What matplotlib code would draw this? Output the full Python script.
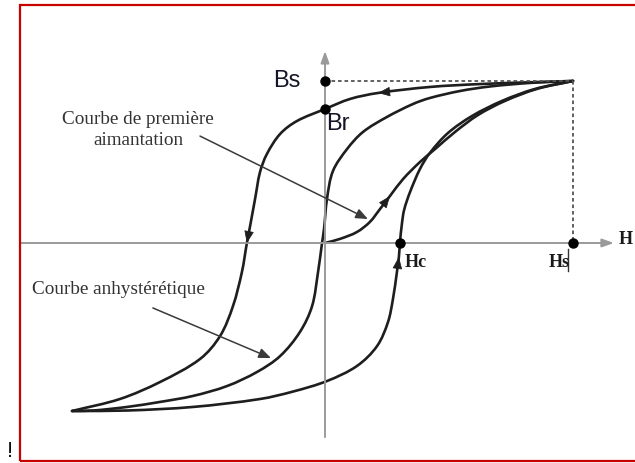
import matplotlib
matplotlib.use("Agg")
import matplotlib.pyplot as plt
from matplotlib.patches import Rectangle, PathPatch
from matplotlib.path import Path
import numpy as np

# Normalised field H/Hs and induction B/Bs
Br = 0.827
Hc = 0.302

# descending branch (from +saturation down to -saturation)
desc_H = [1.000, 0.867, 0.625, 0.423, 0.214, 0.101, 0.000, -0.113, -0.181, -0.234,
          -0.262, -0.282, -0.302, -0.315, -0.335, -0.371, -0.423, -0.504, -0.665,
          -0.827, -1.020]
desc_B = [1.000, 0.994, 0.981, 0.963, 0.926, 0.889, Br, 0.753, 0.673, 0.550,
          0.438, 0.272, 0.105, 0.000, -0.179, -0.389, -0.574, -0.716, -0.858,
          -0.963, -1.037]

# ascending branch (from -saturation up to +saturation)
asc_H = [-1.020, -0.798, -0.532, -0.262, -0.129, 0.008, 0.129, 0.210, 0.254, 0.274,
         0.290, 0.298, Hc, 0.310, 0.319, 0.343, 0.383, 0.423, 0.496, 0.593, 0.714,
         0.847, 1.000]
asc_B = [-1.037, -1.034, -1.012, -0.963, -0.917, -0.852, -0.759, -0.636, -0.488,
         -0.346, -0.179, -0.086, 0.000, 0.117, 0.204, 0.315, 0.457, 0.556, 0.679,
         0.784, 0.877, 0.951, 1.000]

# anhysteretic curve
anh_H = [-1.020, -0.935, -0.798, -0.665, -0.532, -0.395, -0.274, -0.181, -0.101,
         -0.052, -0.028, -0.012, -0.004, 0.008, 0.032, 0.089, 0.153, 0.250, 0.355,
         0.423, 0.544, 0.665, 0.827, 1.000]
anh_B = [-1.037, -1.034, -1.012, -0.981, -0.944, -0.883, -0.796, -0.698, -0.549,
         -0.389, -0.179, 0.000, 0.086, 0.272, 0.444, 0.580, 0.685, 0.778, 0.858,
         0.895, 0.938, 0.966, 0.988, 1.000]

# first magnetisation curve
first_H = [0.000, 0.060, 0.129, 0.181, 0.222, 0.262, 0.315, 0.383, 0.444, 0.524,
           0.617, 0.726, 0.855, 1.000]
first_B = [0.000, 0.025, 0.068, 0.130, 0.210, 0.290, 0.395, 0.500, 0.580, 0.685,
           0.790, 0.877, 0.951, 1.000]

Bs = 1.0
Hs = 1.0

CURVE = "#1e1e1e"
AXIS = "#9a9a9a"

fig = plt.figure(figsize=(6.35, 4.64), dpi=100)
ax = fig.add_axes([0, 0, 1, 1])
ax.set_xlim(-1.3105, 1.25)
ax.set_ylim(-1.358, 1.506)
ax.axis("off")


def smooth_path(h, b):
    """Cubic Bezier path through every (h, b) point, tangents from chord lengths
    measured on screen so unevenly spaced points still give a smooth line."""
    to_px = ax.transData
    p = to_px.transform(np.column_stack([h, b]).astype(float))
    n = len(p)
    tang = np.zeros_like(p)
    for i in range(n):
        a = p[max(i - 1, 0)]
        c = p[min(i + 1, n - 1)]
        d = c - a
        tang[i] = d / (np.hypot(*d) or 1.0)
    verts = [p[0]]
    codes = [Path.MOVETO]
    for i in range(n - 1):
        seg = np.hypot(*(p[i + 1] - p[i])) / 3.0
        verts += [p[i] + tang[i] * seg, p[i + 1] - tang[i + 1] * seg, p[i + 1]]
        codes += [Path.CURVE4] * 3
    verts = to_px.inverted().transform(np.array(verts))
    return Path(verts, codes)


# frame around the figure
fig.patches.append(Rectangle((20 / 635, 2.5 / 464), 1.2, 1 - 8.5 / 464,
                             transform=fig.transFigure, fill=False,
                             edgecolor="#c80000", linewidth=1.6))
fig.text(10 / 635, 1 - 452 / 464, "!", fontsize=16, family="Liberation Sans",
         ha="center", va="center", color="#111111")

# axes with arrow heads
ax.annotate("", xy=(1.165, 0), xytext=(-1.23, 0),
            arrowprops=dict(arrowstyle="-|>,head_length=0.7,head_width=0.25",
                            color=AXIS, lw=1.4, shrinkA=0, shrinkB=0))
ax.annotate("", xy=(0, 1.185), xytext=(0, -1.198),
            arrowprops=dict(arrowstyle="-|>,head_length=0.7,head_width=0.25",
                            color=AXIS, lw=1.4, shrinkA=0, shrinkB=0))

# saturation guides
ax.plot([0, Hs], [Bs, Bs], color="#555555", lw=1.3, ls=(0, (2, 1.6)))
ax.plot([Hs, Hs], [Bs, 0], color="#555555", lw=1.3, ls=(0, (2, 1.6)))

# curves
for h, b in [(desc_H, desc_B), (asc_H, asc_B), (anh_H, anh_B), (first_H, first_B)]:
    ax.add_patch(PathPatch(smooth_path(h, b), facecolor="none", edgecolor=CURVE,
                           lw=1.9, joinstyle="round", capstyle="round"))


def curve_arrow(h, b, i):
    x0, y0 = h[i - 1], b[i - 1]
    x1, y1 = h[i], b[i]
    ax.annotate("", xy=(x1, y1), xytext=(x1 - 0.2 * (x1 - x0), y1 - 0.2 * (y1 - y0)),
                arrowprops=dict(arrowstyle="-|>,head_length=0.55,head_width=0.22",
                                color=CURVE, lw=0.5, shrinkA=0, shrinkB=0,
                                mutation_scale=14))


curve_arrow(desc_H, desc_B, 4)
curve_arrow(desc_H, desc_B, 13)
curve_arrow(asc_H, asc_B, 11)
curve_arrow(first_H, first_B, 5)

# key points
ax.plot([0, 0, Hc, Hs], [Bs, Br, 0, 0], "o", color="black", ms=6.5, zorder=5)

# labels
sans = dict(family="Liberation Sans", fontsize=17, color="#151528")
ax.text(-0.10, 1.006, "Bs", ha="right", va="center", **sans)
ax.text(0.006, 0.738, "Br", ha="left", va="center", **sans)

serif_b = dict(family="Liberation Serif", fontweight="bold", color="#1a1a1a")
ax.text(0.323, -0.117, "Hc", ha="left", va="center", fontsize=13, **serif_b)
ax.text(0.985, -0.117, "Hs", ha="right", va="center", fontsize=13, **serif_b)
ax.text(1.185, 0.025, "H", ha="left", va="center", fontsize=13, **serif_b)
ax.plot([0.98, 0.98], [-0.04, -0.17], color="#333333", lw=1.0)

serif = dict(family="Liberation Serif", fontsize=13.8, color="#333333")
ax.text(-0.754, 0.704, "Courbe de première\naimantation", ha="center", va="center",
        linespacing=1.35, **serif)
ax.text(-0.833, -0.284, "Courbe anhystérétique", ha="center", va="center", **serif)

pointer = dict(arrowstyle="-|>,head_length=0.6,head_width=0.25", color="#3a3a3a",
               lw=1.1, shrinkA=0, shrinkB=0, mutation_scale=12)
ax.annotate("", xy=(0.173, 0.148), xytext=(-0.504, 0.660), arrowprops=pointer)
ax.annotate("", xy=(-0.218, -0.710), xytext=(-0.694, -0.401), arrowprops=pointer)

fig.savefig("out.png", dpi=100)
